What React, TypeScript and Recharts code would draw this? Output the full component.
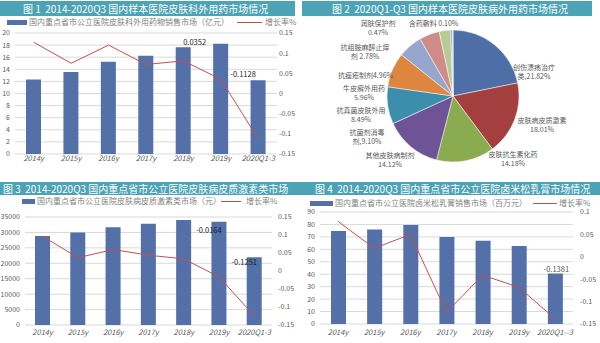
import React from 'react';
import {
    ComposedChart,
    Bar,
    Line,
    XAxis,
    YAxis,
    CartesianGrid,
    LabelList,
    PieChart,
    Pie,
    Cell
} from 'recharts';

const FONT = '"Noto Sans CJK SC", "Noto Sans", sans-serif';
const TEAL = '#4ba3b5';
const BAR = '#5470a8';
const LINE = '#c4504e';
const AXIS_TEXT = '#595959';

// 图1 / 图3 / 图4 categories
const years = ['2014y', '2015y', '2016y', '2017y', '2018y', '2019y', '2020Q1-3'];
const years4 = ['2014y', '2015y', '2016y', '2017y', '2018y', '2019y', '2020Q1--3'];

// 图1 皮肤科外用药物销售市场（亿元）
const skinSales = [12.3, 13.55, 15.26, 16.25, 17.63, 18.24, 12.18];
const skinGrowth = [0.127, 0.075, 0.12, 0.072, 0.081, 0.0352, -0.1128];

// 图2 2020Q1-Q3 share (%)
const pieNames = [
    '创伤溃疡治疗类', '皮肤病皮质激素', '皮肤抗生素化药', '其他皮肤病制剂', '抗菌剂消毒剂',
    '抗真菌皮肤外用', '牛皮癣外用药', '抗痤疮制剂', '抗组胺麻醉止痒剂', '润肤保护剂', '含药敷料'
];
const pieShares = [21.82, 18.01, 14.18, 14.12, 9.1, 8.49, 5.96, 4.96, 2.78, 0.47, 0.1];

// 图3 皮肤病皮质激素类市场（元）
const steroidSales = [28860, 29940, 31660, 32850, 34030, 33490, 21970];
const steroidGrowth = [0.0965, 0.037, 0.0596, 0.0439, 0.0337, -0.0164, -0.1251];

// 图4 卤米松乳膏销售市场（百万元）
const halSales = [74.8, 75.9, 79.6, 70.0, 66.8, 62.6, 40.5];
const halGrowth = [0.079, 0.019, 0.05, -0.124, -0.041, -0.068, -0.1381];

const growthTicks = [-0.15, -0.1, -0.05, 0, 0.05, 0.1, 0.15];

const pieColors = ['#4e6ea8', '#a3403f', '#8aab4f', '#6e5496', '#3c8fac', '#de8540', '#95a7cd', '#cf8c89', '#b7cc92', '#a899c0', '#8cc4d6'];
// label placement around the pie: dx, dy from centre, where to wrap, separator before the percent
const pieLabelLayout = [
    { dx: 81, dy: -24.5, brk: 6, sep: ',' },
    { dx: 89, dy: 28, brk: 7, sep: '' },
    { dx: 60, dy: 62, brk: 7, sep: '' },
    { dx: -63, dy: 63, brk: 7, sep: '' },
    { dx: -86, dy: 40.5, brk: 5, sep: ',' },
    { dx: -92, dy: 18.5, brk: 7, sep: '' },
    { dx: -89, dy: -3.5, brk: 6, sep: '' },
    { dx: -87.5, dy: -21, brk: 0, sep: '' },
    { dx: -88, dy: -45, brk: 7, sep: ' ' },
    { dx: -75, dy: -68.5, brk: 5, sep: '' },
    { dx: -19.5, dy: -73, brk: 0, sep: ' ' }
];

const TitleBar = ({ text, top, left, width, height, pad }: any) => (
    <div style={{
        position: 'absolute', top, left, width, height, background: TEAL, color: '#fff',
        fontSize: 10, lineHeight: `${height}px`, paddingLeft: pad, boxSizing: 'border-box', whiteSpace: 'pre', overflow: 'hidden'
    }}>{text}</div>
);

const LegendRow = ({ y, barX, barW, text, lineX, lineW, text2X }: any) => (
    <>
        <div style={{ position: 'absolute', left: barX, top: y - 2.5, width: barW, height: 5, background: BAR }} />
        <div style={{ position: 'absolute', left: barX + barW + 2, top: y - 6, fontSize: 8, lineHeight: '12px', color: '#7f7f7f', whiteSpace: 'nowrap' }}>{text}</div>
        <div style={{ position: 'absolute', left: lineX, top: y - 0.5, width: lineW, height: 1, background: LINE }} />
        <div style={{ position: 'absolute', left: text2X, top: y - 6, fontSize: 8, lineHeight: '12px', color: '#7f7f7f', whiteSpace: 'nowrap' }}>增长率%</div>
    </>
);

const noteRenderer = (offsets: Record<number, number[]>, color: string) => (p: any) => {
    const off = offsets[p.index];
    if (!off) return null;
    return (
        <text x={p.x + p.width / 2 + off[0]} y={p.y + off[1]} textAnchor="middle" dominantBaseline="central"
            fontSize={7.5} fill={color} fontFamily={FONT}>
            {Number(p.value).toFixed(4)}
        </text>
    );
};

const BarLineChart = (props: any) => {
    const { cats, sales, growth, width, height, margin, lw, rw, xh, xMargin, rMargin, leftDomain, leftTicks, rightDomain, rightTicks, notes, noteColor } = props;
    const data = cats.map((c: string, i: number) => ({ c, s: sales[i], g: growth[i] }));
    const tick = { fontSize: 7, fill: AXIS_TEXT, fontFamily: FONT };
    return (
        <ComposedChart width={width} height={height} data={data} margin={margin}>
            <CartesianGrid vertical={false} stroke="#d9d9d9" yAxisId="l" />
            <XAxis dataKey="c" height={xh} axisLine={false} tickLine={false} tickSize={0} tickMargin={xMargin} interval={0}
                tick={{ fontSize: 7.5, fill: AXIS_TEXT, fontStyle: 'italic', fontFamily: FONT }} />
            <YAxis yAxisId="l" width={lw} domain={leftDomain} ticks={leftTicks} axisLine={false} tickLine={false}
                tickSize={0} tickMargin={5} tick={tick} interval={0} />
            <YAxis yAxisId="r" orientation="right" width={rw} domain={rightDomain} ticks={rightTicks} axisLine={false}
                tickLine={false} tickSize={0} tickMargin={rMargin} tick={{ ...tick, textAnchor: 'start' }} interval={0} />
            <Bar yAxisId="l" dataKey="s" fill={BAR} barSize={15} isAnimationActive={false}>
                <LabelList dataKey="g" content={noteRenderer(notes, noteColor)} />
            </Bar>
            <Line yAxisId="r" dataKey="g" type="linear" stroke={LINE} strokeWidth={1} dot={false} isAnimationActive={false} />
        </ComposedChart>
    );
};

const renderPieLabel = (p: any) => {
    const lay = pieLabelLayout[p.index];
    const name = pieNames[p.index];
    const pct = pieShares[p.index].toFixed(2) + '%';
    const x = p.cx + lay.dx;
    const y = p.cy + lay.dy;
    const common = { textAnchor: 'middle' as const, dominantBaseline: 'central' as const, fontSize: 7, fill: AXIS_TEXT, fontFamily: FONT };
    if (lay.brk === 0) {
        return <text x={x} y={y} {...common}>{name + lay.sep + pct}</text>;
    }
    return (
        <g>
            <text x={x} y={y - 4.5} {...common}>{name.slice(0, lay.brk)}</text>
            <text x={x} y={y + 4.5} {...common}>{name.slice(lay.brk) + lay.sep + pct}</text>
        </g>
    );
};

export default function App() {
    const pieData = pieNames.map((n, i) => ({ n, v: pieShares[i] }));
    return (
        <div style={{ position: 'absolute', left: 0, top: 0, width: 600, height: 343, background: '#fff', fontFamily: FONT, overflow: 'hidden' }}>
            {/* 图1 */}
            <div style={{ position: 'absolute', left: 0, top: 0, width: 300, height: 175 }}>
                <TitleBar text={'图 1  2014-2020Q3 国内样本医院皮肤科外用药市场情况'} top={1} left={0} width={295} height={15} pad={23} />
                <LegendRow y={22} barX={7} barW={20} text="国内重点省市公立医院皮肤科外用药物销售市场（亿元）" lineX={237} lineW={25} text2X={265} />
                <div style={{ position: 'absolute', left: 0, top: 0 }}>
                    <BarLineChart cats={years} sales={skinSales} growth={skinGrowth} width={300} height={175}
                        margin={{ top: 33, right: 0, bottom: 3, left: 0 }} lw={15} rw={23} xh={18} xMargin={2} rMargin={2}
                        leftDomain={[0, 20]} leftTicks={[0, 2, 4, 6, 8, 10, 12, 14, 16, 18, 20]}
                        rightDomain={[-0.15, 0.15]} rightTicks={growthTicks}
                        notes={{ 5: [-26, -2], 6: [-15, -7] }} noteColor="#262626" />
                </div>
            </div>

            {/* 图2 */}
            <div style={{ position: 'absolute', left: 300, top: 0, width: 300, height: 175 }}>
                <TitleBar text={'图 2  2020Q1-Q3 国内样本医院皮肤病外用药市场情况'} top={1} left={2} width={290} height={15} pad={30} />
                <div style={{ position: 'absolute', left: 0, top: 0 }}>
                    <PieChart width={300} height={175} margin={{ top: 0, right: 0, bottom: 0, left: 0 }}>
                        <Pie data={pieData} dataKey="v" nameKey="n" cx={153} cy={96} outerRadius={66} startAngle={90} endAngle={-270}
                            stroke="#fff" strokeWidth={0.5} labelLine={false} label={renderPieLabel} isAnimationActive={false}>
                            {pieData.map((d, i) => <Cell key={d.n} fill={pieColors[i]} />)}
                        </Pie>
                    </PieChart>
                </div>
            </div>

            {/* 图3 */}
            <div style={{ position: 'absolute', left: 0, top: 180, width: 300, height: 163 }}>
                <TitleBar text={'图 3  2014-2020Q3 国内重点省市公立医院皮肤病皮质激素类市场'} top={2} left={0} width={300} height={13} pad={3} />
                <LegendRow y={21} barX={22} barW={13} text="国内重点省市公立医院皮肤病皮质激素类市场（元）" lineX={221} lineW={20} text2X={246} />
                <div style={{ position: 'absolute', left: 0, top: 0 }}>
                    <BarLineChart cats={years} sales={steroidSales} growth={steroidGrowth} width={300} height={163}
                        margin={{ top: 37, right: 0, bottom: 3, left: 0 }} lw={25} rw={28} xh={15} xMargin={5} rMargin={6}
                        leftDomain={[0, 35000]} leftTicks={[0, 5000, 10000, 15000, 20000, 25000, 30000, 35000]}
                        rightDomain={[-0.15, 0.15]} rightTicks={growthTicks}
                        notes={{ 5: [-10, 8], 6: [-10, 4] }} noteColor="#1a1a1a" />
                </div>
            </div>

            {/* 图4 */}
            <div style={{ position: 'absolute', left: 300, top: 180, width: 300, height: 163 }}>
                <TitleBar text={'图 4  2014-2020Q3 国内重点省市公立医院卤米松乳膏市场情况'} top={2} left={0} width={300} height={13} pad={15} />
                <LegendRow y={23} barX={10} barW={23} text="国内重点省市公立医院卤米松乳膏销售市场（百万元）" lineX={233} lineW={24} text2X={259} />
                <div style={{ position: 'absolute', left: 0, top: 0 }}>
                    <BarLineChart cats={years4} sales={halSales} growth={halGrowth} width={300} height={163}
                        margin={{ top: 32, right: 0, bottom: 3, left: 0 }} lw={20} rw={27} xh={16} xMargin={6} rMargin={7}
                        leftDomain={[0, 90]} leftTicks={[0, 10, 20, 30, 40, 50, 60, 70, 80, 90]}
                        rightDomain={[-0.15, 0.1]} rightTicks={[-0.15, -0.1, -0.05, 0, 0.05, 0.1]}
                        notes={{ 6: [1, -5] }} noteColor="#595959" />
                </div>
            </div>
        </div>
    );
}
